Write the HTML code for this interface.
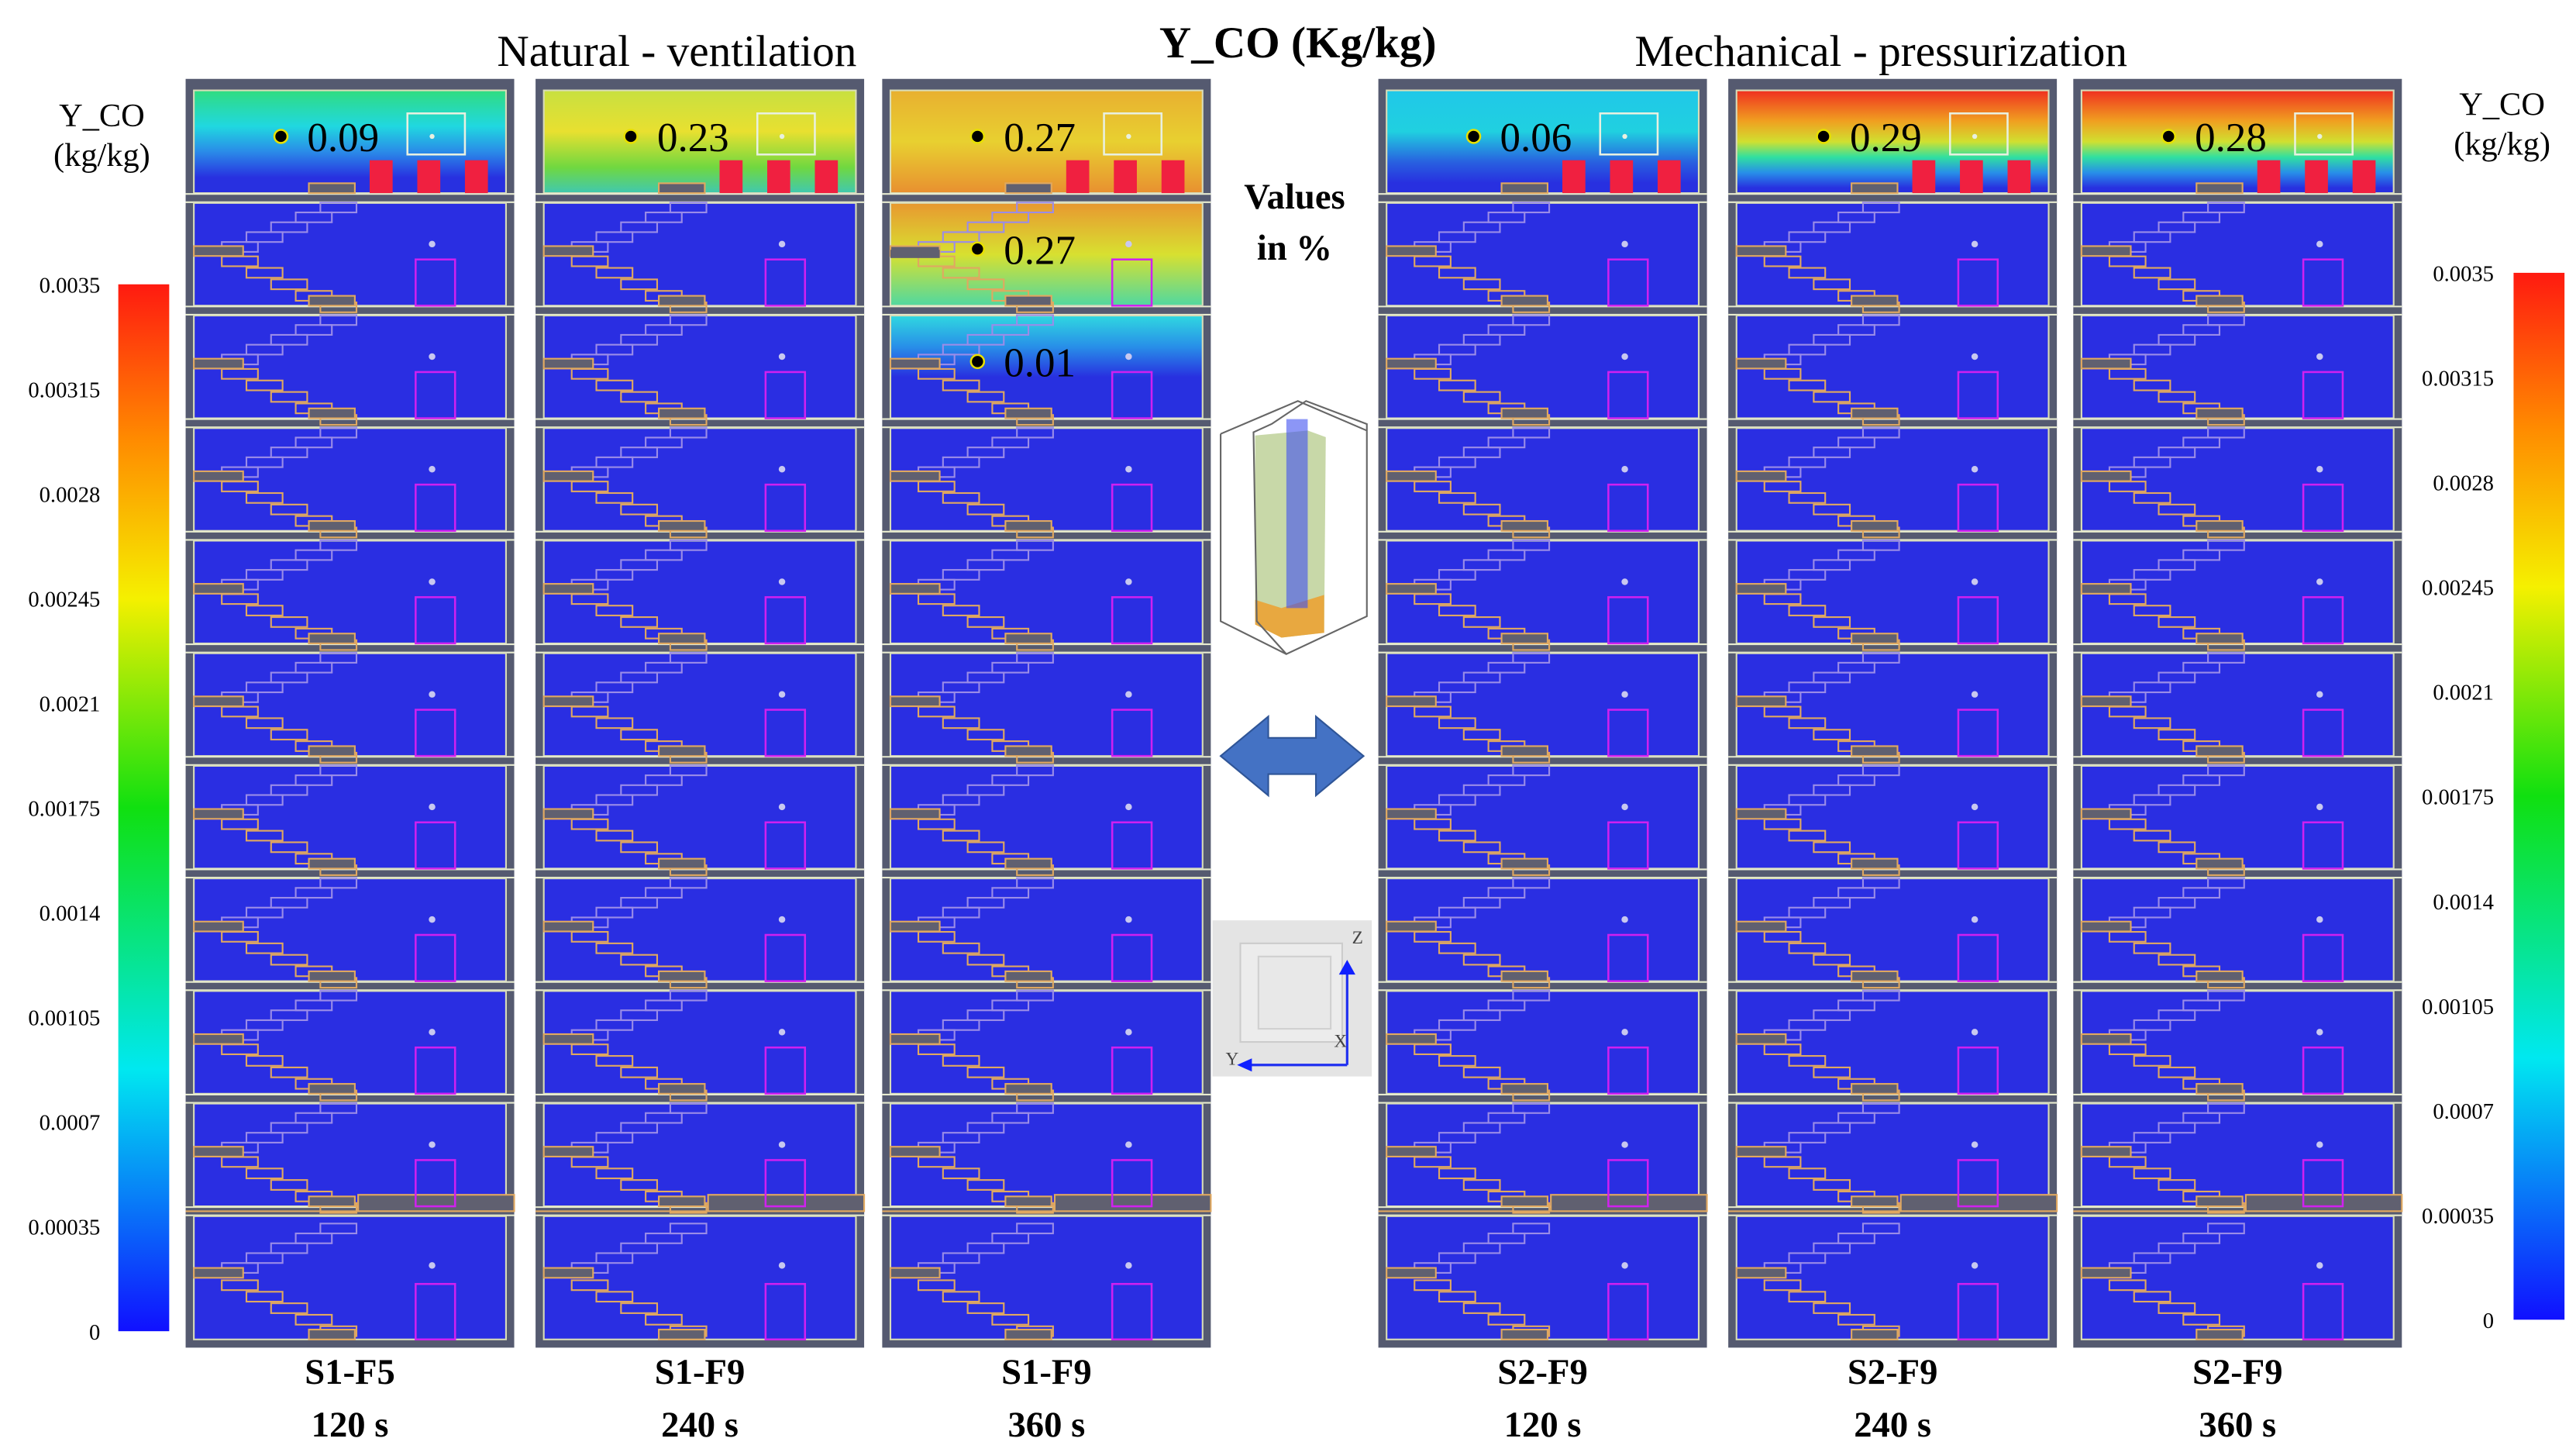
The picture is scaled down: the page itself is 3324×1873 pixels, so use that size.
<!DOCTYPE html>
<html><head><meta charset="utf-8"><style>
html,body{margin:0;padding:0;background:#fff;}
svg{display:block;}
text{font-family:"Liberation Serif",serif;}
</style></head><body>
<svg id="fig" xmlns="http://www.w3.org/2000/svg" width="3324" height="1873" viewBox="0 0 1568 883.5" preserveAspectRatio="none">
<defs>
<linearGradient id="cbar" x1="0" y1="0" x2="0" y2="1">
<stop offset="0" stop-color="#ff1a10"/><stop offset="0.15" stop-color="#ff8c00"/><stop offset="0.3" stop-color="#f5f000"/>
<stop offset="0.5" stop-color="#10e010"/><stop offset="0.75" stop-color="#00e8f0"/><stop offset="1" stop-color="#1010ff"/>
</linearGradient>
<linearGradient id="g1" x1="0" y1="0" x2="0" y2="1"><stop offset="0" stop-color="#30dc80"/><stop offset="0.35" stop-color="#20d8e0"/><stop offset="0.6" stop-color="#2a8ae8"/><stop offset="0.85" stop-color="#2830e0"/></linearGradient>
<linearGradient id="g2" x1="0" y1="0" x2="0" y2="1"><stop offset="0" stop-color="#c8e040"/><stop offset="0.4" stop-color="#e8e030"/><stop offset="0.75" stop-color="#70d840"/><stop offset="1" stop-color="#40c8b0"/></linearGradient>
<linearGradient id="g3" x1="0" y1="0" x2="0" y2="1"><stop offset="0" stop-color="#e8b030"/><stop offset="0.5" stop-color="#e8d030"/><stop offset="1" stop-color="#e89030"/></linearGradient>
<linearGradient id="g3b" x1="0" y1="0" x2="0" y2="1"><stop offset="0" stop-color="#e89830"/><stop offset="0.5" stop-color="#d8e030"/><stop offset="1" stop-color="#50d8a0"/></linearGradient>
<linearGradient id="g3c" x1="0" y1="0" x2="0" y2="1"><stop offset="0" stop-color="#30d8e0"/><stop offset="0.3" stop-color="#2890e8"/><stop offset="0.6" stop-color="#2830e0"/></linearGradient>
<linearGradient id="g4" x1="0" y1="0" x2="0" y2="1"><stop offset="0" stop-color="#20c8e8"/><stop offset="0.4" stop-color="#20d0e0"/><stop offset="0.7" stop-color="#2860e0"/><stop offset="0.9" stop-color="#2830e0"/></linearGradient>
<linearGradient id="g5" x1="0" y1="0" x2="0" y2="1"><stop offset="0" stop-color="#f03020"/><stop offset="0.3" stop-color="#f0a020"/><stop offset="0.5" stop-color="#d0e030"/><stop offset="0.65" stop-color="#30e0a0"/><stop offset="0.8" stop-color="#2890e8"/><stop offset="0.95" stop-color="#2830e0"/></linearGradient>
</defs>
<g id="root"></g>
</svg>
<script>
const NS='http://www.w3.org/2000/svg';
const root=document.getElementById('root');
// data
const panelLabels=['S1-F5','S1-F9','S1-F9','S2-F9','S2-F9','S2-F9'];
const panelTimes=['120 s','240 s','360 s','120 s','240 s','360 s'];
const topValues=['0.09','0.23','0.27','0.06','0.29','0.28'];
const extraValues=['0.27','0.01'];
const leftTicks=['0.0035','0.00315','0.0028','0.00245','0.0021','0.00175','0.0014','0.00105','0.0007','0.00035','0'];
const rightTicks=['0.0035','0.00315','0.0028','0.00245','0.0021','0.00175','0.0014','0.00105','0.0007','0.00035','0'];
const panelX=[113,326,537,839,1052,1262];
const topFills=['url(#g1)','url(#g2)','url(#g3)','url(#g4)','url(#g5)','url(#g5)'];

function el(tag,attrs,parent,txt){const e=document.createElementNS(NS,tag);for(const k in attrs)e.setAttribute(k,attrs[k]);if(txt!==undefined)e.textContent=txt;(parent||root).appendChild(e);return e;}

const W=200, T0=52, FH=68.5, NF=11, BOT=818;
const floorTop=k=>k===0?T0:T0+FH*k;
const floorBot=k=>k===NF-1?BOT:T0+FH*(k+1);

panelX.forEach((px,i)=>{
  const g=el('g',{});
  
  
  el('rect',{x:px,y:T0-4,width:W,height:BOT-T0+6,fill:'#555a70'},g);
  for(let k=0;k<NF;k++){
    const t=floorTop(k)+3, b=floorBot(k)-3;
    let fill='#2a2ee2';
    if(k===0) fill=topFills[i];
    if(i===2&&k===1) fill='url(#g3b)';
    if(i===2&&k===2) fill='url(#g3c)';
    el('rect',{x:px+5,y:t,width:W-10,height:b-t,fill:fill},g);
    el('rect',{x:px+5,y:t,width:W-10,height:b-t,fill:'none',stroke:'#d8dcb8','stroke-width':1},g);
    if(k<NF-1){
      el('rect',{x:px+100,y:b,width:W-100,height:6,fill:'#555a70'},g);
      el('line',{x1:px,y1:b+0.5,x2:px+W,y2:b+0.5,stroke:'#e8ecd0','stroke-width':1},g);
      el('line',{x1:px,y1:b+5.5,x2:px+W,y2:b+5.5,stroke:'#e8ecd0','stroke-width':1},g);
    }
    if(k===NF-2){
      el('rect',{x:px+105,y:b-7,width:W-105,height:10,fill:'#606070',stroke:'#e0a860','stroke-width':1},g);
      el('line',{x1:px,y1:b+3,x2:px+W,y2:b+3,stroke:'#e0a860','stroke-width':1},g);
    }
    const h=b-t;
    if(k>0){
      for(let s=0;s<5;s++){
        el('rect',{x:px+22+s*15,y:t+h*0.38-s*6,width:22,height:6,fill:'none',stroke:'#9a8ce8','stroke-width':1},g);
      }
      el('rect',{x:px+5,y:t+h*0.42,width:30,height:6,fill:'#606070',stroke:'#e0a860','stroke-width':1},g);
      for(let s=0;s<5;s++){
        el('rect',{x:px+22+s*15,y:t+h*0.52+s*7,width:22,height:6,fill:'none',stroke:'#e0a860','stroke-width':1},g);
      }
    }
    el('rect',{x:px+75,y:b-6,width:28,height:6,fill:'#606070',stroke:'#e0a860','stroke-width':1},g);
    if(k>0){
      el('rect',{x:px+140,y:t+h*0.55,width:24,height:h*0.45,fill:'none',stroke:'#d020f0','stroke-width':1.2},g);
      el('circle',{cx:px+150,cy:t+h*0.4,r:2,fill:'#c8c8f0'},g);
    }
  }
  const t0=floorTop(0)+3, b0=floorBot(0)-3;
  el('rect',{x:px+135,y:t0+14,width:35,height:25,fill:'none',stroke:'#e8f0e0','stroke-width':1.2},g);
  el('circle',{cx:px+150,cy:t0+28,r:1.5,fill:'#e8f0e0'},g);
  [112,141,170].forEach(dx=>{
    const r=el('rect',{x:px+dx,y:b0-20,width:14,height:20,fill:'#f02040'},g);
    
    
  });
  const dot=el('circle',{cx:px+58,cy:t0+28,r:4,fill:'#000',stroke:'#e8e000','stroke-width':1.2},g);
  
  
  const v=el('text',{x:px+74,y:t0+37,'font-size':25,fill:'#000'},g,topValues[i]);
  
  
  const l1=el('text',{x:px+W/2,y:842,'font-size':22,'font-weight':'bold','text-anchor':'middle'},g,panelLabels[i]);
  
  
  const l2=el('text',{x:px+W/2,y:874,'font-size':22,'font-weight':'bold','text-anchor':'middle'},g,panelTimes[i]);
  
  
});
extraValues.forEach((val,j)=>{
  const px=panelX[2], t=floorTop(j+1)+3;
  const d=el('circle',{cx:px+58,cy:t+28,r:4,fill:'#000',stroke:'#e8e000','stroke-width':1.2});
  
  
  const tx=el('text',{x:px+74,y:t+37,'font-size':25},root,val);
  
  
});
el('rect',{x:542,y:152,width:30,height:5,fill:'#606070'});

function colorbar(x,y0,y1,ticks,labelX,name){
  const g=el('g',{});
  
  
  el('rect',{x:x,y:y0,width:31,height:y1-y0,fill:'url(#cbar)'},g);
  const step=(y1-y0)/(ticks.length-1);
  ticks.forEach((tk,i)=>{
    const t=el('text',{x:labelX,y:y0+i*step+5,'font-size':13.5,'text-anchor':'end'},g,tk);
    
    
  });
}
colorbar(72,173,810,leftTicks,61,'left-colorbar');
colorbar(1530,166,803,rightTicks,1518,'right-colorbar');

function txt(x,y,s,size,name,extra){const t=el('text',Object.assign({x:x,y:y,'font-size':size,'text-anchor':'middle'},extra||{}),root,s);return t;}
txt(412,40,'Natural - ventilation',27,'left-group-title');
txt(790,35,'Y_CO (Kg/kg)',27,'main-title',{'font-weight':'bold'});
txt(1145,40,'Mechanical  - pressurization',27,'right-group-title');
txt(62,77,'Y_CO',20,'left-unit-label');
txt(62,101,'(kg/kg)',20,'left-unit-label-2');
txt(1523,70,'Y_CO',20,'right-unit-label');
txt(1523,94,'(kg/kg)',20,'right-unit-label-2');
txt(788,127,'Values',22,'values-note',{'font-weight':'bold'});
txt(788,158,'in %',22,'values-note-2',{'font-weight':'bold'});

const bx=el('g',{});


el('polygon',{points:'764,265 796,262 807,266 806,385 780,388 764,378',fill:'#c8d8a8'},bx);
el('polygon',{points:'764,365 780,370 806,362 806,385 780,388 764,380',fill:'#e8a840'},bx);
el('polygon',{points:'783,255 796,255 796,370 783,370',fill:'#4050f0',opacity:0.6},bx);
el('polyline',{points:'774,258 763,263 765,378 783,398 832,375 832,258 795,244 774,258',fill:'none',stroke:'#666','stroke-width':1},bx);
el('polyline',{points:'743,264 790,244 832,262',fill:'none',stroke:'#666','stroke-width':1},bx);
el('polyline',{points:'743,264 743,378 783,398',fill:'none',stroke:'#666','stroke-width':1},bx);
const ar=el('polygon',{points:'743,460 772,436 772,449 801,449 801,436 830,460 801,484 801,471 772,471 772,484',fill:'#4472c4',stroke:'#2f5597','stroke-width':1});


const ax=el('g',{});


el('rect',{x:738,y:560,width:97,height:95,fill:'#e4e4e4'},ax);
el('rect',{x:755,y:574,width:62,height:60,fill:'#ececec',stroke:'#ccc','stroke-width':1},ax);
el('rect',{x:766,y:582,width:44,height:44,fill:'#e8e8e8',stroke:'#d0d0d0','stroke-width':1},ax);
el('line',{x1:820,y1:648,x2:820,y2:590,stroke:'#2030f0','stroke-width':1.5},ax);
el('polygon',{points:'815,593 820,584 825,593',fill:'#1020ff'},ax);
el('line',{x1:820,y1:648,x2:758,y2:648,stroke:'#2030f0','stroke-width':1.5},ax);
el('polygon',{points:'762,644 753,648 762,652',fill:'#1020ff'},ax);
el('text',{x:823,y:574,'font-size':11,fill:'#444'},ax,'Z');
el('text',{x:746,y:648,'font-size':11,fill:'#444'},ax,'Y');
el('text',{x:812,y:637,'font-size':11,fill:'#444'},ax,'X');
</script>
</body></html>
